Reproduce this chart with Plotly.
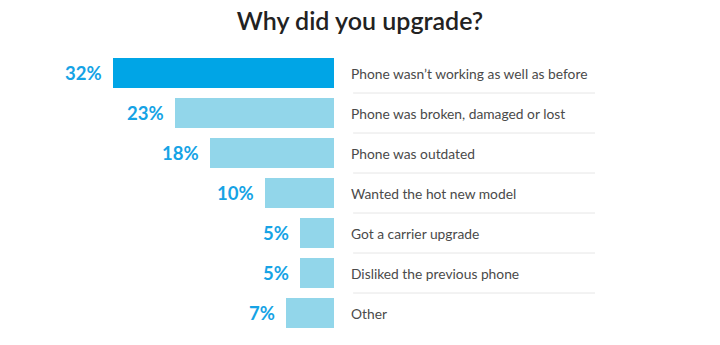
import plotly.graph_objects as go

categories = [
    "Phone wasn’t working as well as before",
    "Phone was broken, damaged or lost",
    "Phone was outdated",
    "Wanted the hot new model",
    "Got a carrier upgrade",
    "Disliked the previous phone",
    "Other",
]
values = [32, 23, 18, 10, 5, 5, 7]
pct_labels = [f"{v}%" for v in values]

bar_colors = ["#00a5e6"] + ["#92d6ea"] * (len(values) - 1)
n = len(categories)
idx = list(range(n))

fig = go.Figure()
fig.add_trace(go.Bar(
    y=idx,
    x=values,
    base=[-v for v in values],
    orientation="h",
    marker=dict(color=bar_colors, line=dict(width=0)),
    width=0.76,
    hoverinfo="skip",
    showlegend=False,
))

annotations = []
for i, (v, lab, cat) in enumerate(zip(values, pct_labels, categories)):
    annotations.append(dict(
        x=-v, y=i, xref="x", yref="y", text=f"<b>{lab}</b>",
        showarrow=False, xanchor="right", yanchor="middle", xshift=-9,
        font=dict(family="Lato, sans-serif", size=18.5, color="#16a3e5"),
    ))
    annotations.append(dict(
        x=0, y=i, xref="x", yref="y", text=cat,
        showarrow=False, xanchor="left", yanchor="middle", xshift=15,
        font=dict(family="Lato, sans-serif", size=13.8, color="#4a4a4a"),
    ))

shapes = []
for i in range(n - 1):
    shapes.append(dict(
        type="line", xref="x", yref="y",
        x0=2.75, x1=37.8, y0=i + 0.5, y1=i + 0.5,
        line=dict(color="#e6e6e6", width=1),
    ))

fig.update_layout(
    width=720, height=345,
    margin=dict(l=0, r=0, t=0, b=0),
    paper_bgcolor="white", plot_bgcolor="white",
    title=dict(
        text="Why did you upgrade?",
        x=0.5, xanchor="center", y=1 - 21 / 345, yanchor="middle",
        yref="container",
        font=dict(family="Lato, sans-serif", size=25, color="#222222", weight=600),
    ),
    xaxis=dict(range=[-48.4, 55.9], visible=False, fixedrange=True),
    yaxis=dict(range=[6.8, -1.825], visible=False, fixedrange=True),
    annotations=annotations,
    shapes=shapes,
    bargap=0,
)

fig.write_html("out.html")
